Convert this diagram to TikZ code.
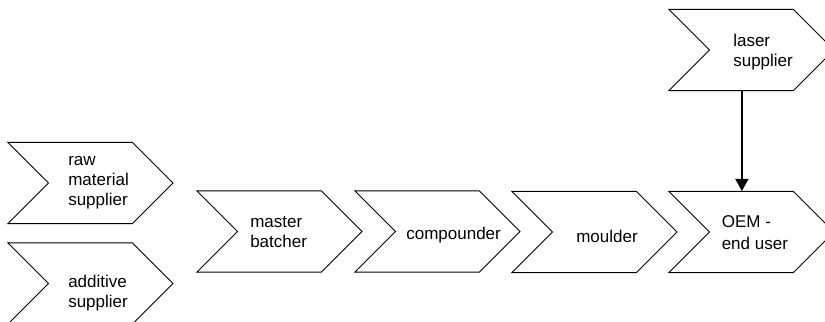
\documentclass[tikz,border=0pt]{standalone}
\usepackage{fontspec}
\setmainfont{Liberation Sans}
\usepackage{tikz}
\usetikzlibrary{shapes.symbols}
\usetikzlibrary{arrows.meta}
\definecolor{chevline}{RGB}{0,0,0}
\tikzset{
    stage/.style={shape=signal, signal from=west, signal to=east,
             signal pointer angle=90, draw=chevline, line width=0.7pt,
             minimum width=4.125cm, minimum height=2.025cm, inner sep=0pt
    },
    label/.style={anchor=west, align=left, inner sep=0pt,
             font=\fontsize{12.1}{14.2}\selectfont
    },
    feed/.style={draw=chevline, line width=1.4pt,
             -{Triangle[width=0.32cm, length=0.3cm]}
    }
  }

\begin{document}
\begin{tikzpicture}[x=0.025cm, y=-0.025cm]
  \useasboundingbox (0,0) rectangle (825,322);
  %Suppliers on the left
      \node[stage] (raw) at (90.5,183) {};
      \node[label] (rawtxt) at (68,183) {raw\\material\\supplier};
      \node[stage] (add) at (90.5,283.5) {};
      \node[label] (addtxt) at (68,293) {additive\\supplier};
  %Main chain
      \node[stage] (master) at (279.5,231.5) {};
      \node[label] (mastertxt) at (250,232.5) {master\\batcher};
      \node[stage] (comp) at (437.5,231.5) {};
      \node[label] (comptxt) at (406,235) {compounder};
      \node[stage] (mould) at (594.5,232) {};
      \node[label] (mouldtxt) at (576,236) {moulder};
      \node[stage] (oem) at (751.5,232) {};
      \node[label] (oemtxt) at (721.5,233) {OEM -\\[1.5pt]end user};
  %Laser supplier on top
      \node[stage] (laser) at (751.5,50) {};
      \node[label] (lasertxt) at (733,52) {laser\\supplier};
  % arrow
      \draw[feed] ([xshift=-0.24cm]laser.south) -- ([xshift=-0.24cm]oem.north);
  \end{tikzpicture}
\end{document}
